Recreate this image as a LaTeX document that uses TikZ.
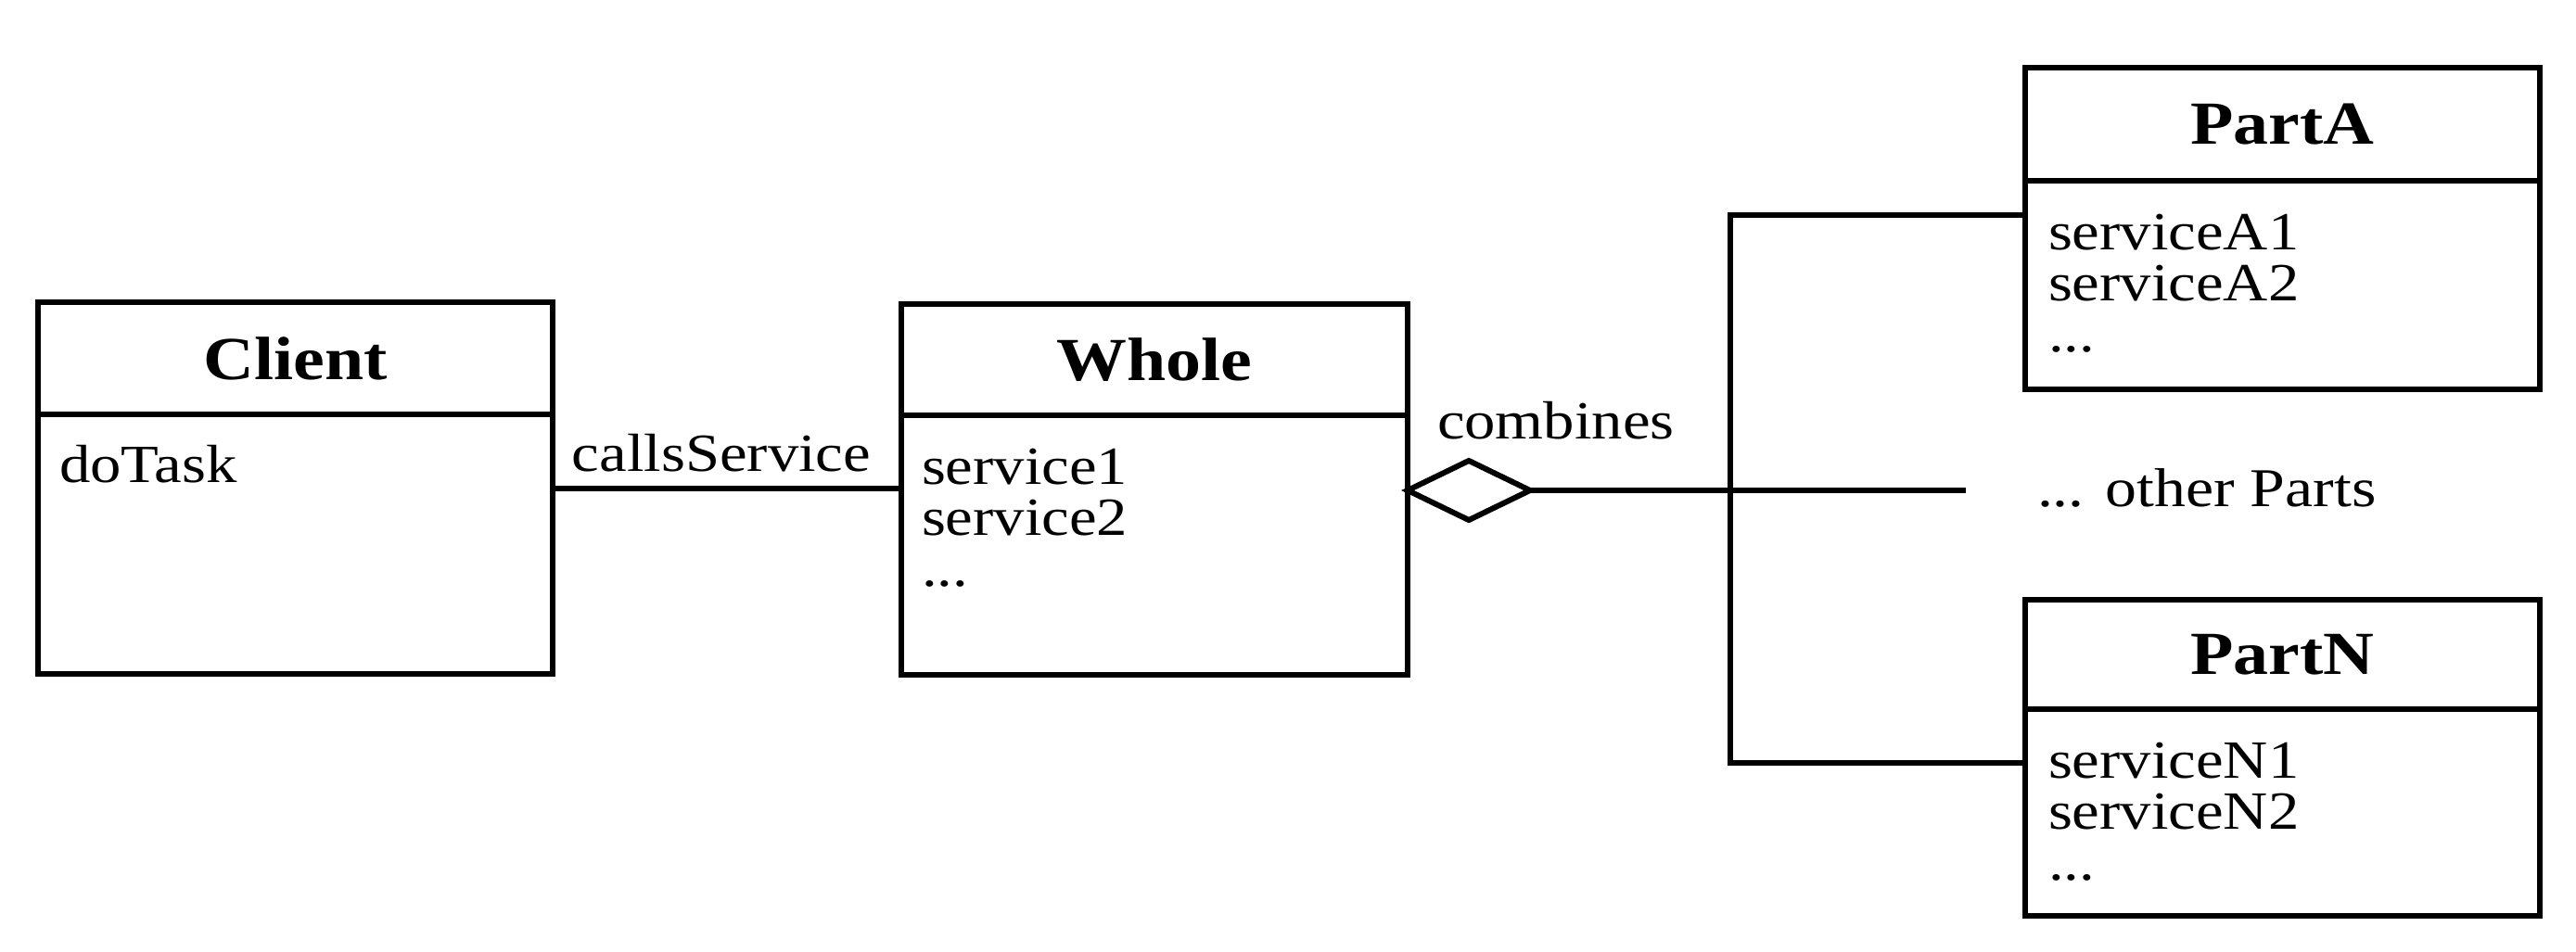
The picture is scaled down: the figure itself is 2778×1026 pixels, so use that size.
\documentclass[tikz,border=0pt]{standalone}
\usepackage{fontspec}
\setmainfont{Liberation Serif}[FakeStretch=1.15]
\usetikzlibrary{shapes.geometric}
\begin{document}
\begin{tikzpicture}[x=1pt,y=-1pt,
  every node/.style={inner sep=0pt, outer sep=0pt},
  box/.style={draw, line width=6pt, rectangle, anchor=north west},
  wire/.style={line width=6pt},
  ttl/.style={font=\fontsize{66}{70}\selectfont\bfseries},
  txt/.style={font=\fontsize{58}{62}\selectfont, anchor=base west}]
\useasboundingbox (0,0) rectangle (2778,1026);

% class boxes
\node[box, minimum width=555, minimum height=401] (client) at (41,326) {};
\node[box, minimum width=546, minimum height=400] (whole) at (972,328) {};
\node[box, minimum width=555, minimum height=347] (parta) at (2184,73) {};
\node[box, minimum width=555, minimum height=341] (partn) at (2184,647) {};

% compartment dividers
\draw[wire] ([yshift=-121pt]client.north west) -- ([yshift=-121pt]client.north east);
\draw[wire] ([yshift=-120pt]whole.north west) -- ([yshift=-120pt]whole.north east);
\draw[wire] ([yshift=-122pt]parta.north west) -- ([yshift=-122pt]parta.north east);
\draw[wire] ([yshift=-118pt]partn.north west) -- ([yshift=-118pt]partn.north east);

% class names
\node[ttl] (clientT) at ([yshift=-61pt]client.north) {Client};
\node[ttl] (wholeT) at ([yshift=-60pt]whole.north) {Whole};
\node[ttl] (partaT) at ([yshift=-61pt]parta.north) {PartA};
\node[ttl] (partnT) at ([yshift=-59pt]partn.north) {PartN};

% operations
\node[txt] (op1) at (64,520) {doTask};
\node[txt] (op2) at (994,522) {service1};
\node[txt] (op3) at (994,577) {service2};
\node[txt] (op4) at (994,632) {...};
\node[txt] (op5) at (2209,269) {serviceA1};
\node[txt] (op6) at (2209,324) {serviceA2};
\node[txt] (op7) at (2209,379) {...};
\node[txt] (op8) at (2209,839) {serviceN1};
\node[txt] (op9) at (2209,894) {serviceN2};
\node[txt] (op10) at (2209,949) {...};

% association Client -> Whole
\draw[wire] (client.east) -- (client.east -| whole.west);
\node[txt, anchor=base] (calls) at (778,508) {callsService};

% aggregation Whole <>-- Parts
\node[draw, line width=6pt, shape=diamond, aspect=2.06, minimum width=132, minimum height=64, anchor=west] (agg) at (whole.east |- 0,529) {};
\node[txt] (comb) at (1550,473) {combines};
\coordinate (ja) at (1866,232);
\coordinate (jn) at (1866,823);
\coordinate (other) at (2120,529);
\draw[wire] (agg.east) -- (other);
\draw[wire] (ja -| parta.west) -- (ja) -- (jn) -- (jn -| partn.west);
\node[txt, font=\fontsize{59}{62}\selectfont] (others) at (2197,546) {... other Parts};
\end{tikzpicture}
\end{document}
